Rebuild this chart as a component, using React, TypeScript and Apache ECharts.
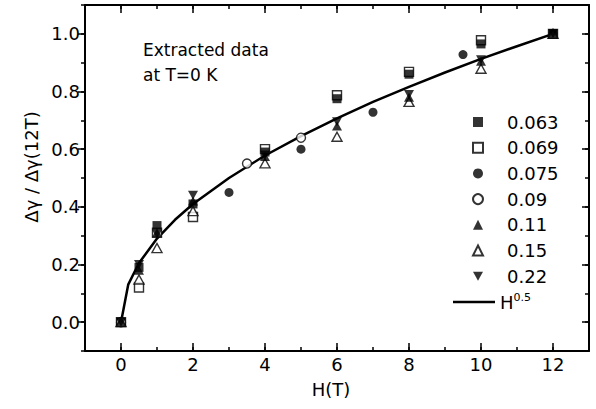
import React, { useEffect, useRef } from "react";
import * as echarts from "echarts";

const FONT = "DejaVu Sans";

// field values (T) shared by most data sets
const fieldH = [0, 0.5, 1, 2, 4, 6, 8, 10, 12];
const y063 = [0, 0.19, 0.335, 0.41, 0.59, 0.775, 0.86, 0.965, 1.0];
const y069 = [0, 0.12, 0.31, 0.365, 0.6, 0.787, 0.868, 0.978, 1.0];
const h075 = [0, 3, 5, 7, 9.5, 12];
const y075 = [0, 0.45, 0.6, 0.728, 0.928, 1.0];
const h090 = [0, 3.5, 5];
const y090 = [0, 0.55, 0.64];
const y011 = [0, 0.18, 0.31, 0.42, 0.575, 0.68, 0.78, 0.905, 1.0];
const y015 = [0, 0.148, 0.257, 0.385, 0.551, 0.643, 0.764, 0.879, 1.0];
const y022 = [0, 0.2, 0.305, 0.44, 0.58, 0.695, 0.79, 0.91, 1.0];

// H^0.5 curve
const lineH = [0, 0.2, 0.5, 1, 1.5, 2, 3, 4, 5, 6, 7, 8, 9, 10, 11, 12];
const lineY = [0, 0.13, 0.205, 0.29, 0.355, 0.41, 0.5, 0.578, 0.645, 0.707, 0.764, 0.816, 0.866, 0.913, 0.957, 1.0];

const markerNames = ["0.063", "0.069", "0.075", "0.09", "0.11", "0.15", "0.22"];
const curveName = "H^0.5";

const zip = (xs: number[], ys: number[]) => xs.map((x, i) => [x, ys[i]]);

const DOWN_TRI = "path://M0,0 L10,0 L5,9 Z";

export default function App() {
  const ref = useRef<HTMLDivElement>(null);
  useEffect(() => {
    if (!ref.current) return;
    const chart = echarts.init(ref.current, undefined, { renderer: "svg" });
    const black = "#000";
    const filled = { color: black };
    const open = { color: "#fff", borderColor: black, borderWidth: 1.4 };
    const scatter = (name: string, data: number[][], symbol: string, size: any, style: any, z: number) => ({
      name,
      type: "scatter",
      data,
      symbol,
      symbolSize: size,
      itemStyle: style,
      xAxisIndex: 0,
      yAxisIndex: 0,
      z,
    });
    // major axes: ECharts picks interval 2 / 0.2 from splitNumber, aligned on 0
    const baseX = { type: "value", min: -1, max: 13, splitLine: { show: false } } as any;
    const baseY = { type: "value", min: -0.1, max: 1.1, splitLine: { show: false } } as any;
    const majX = { ...baseX, splitNumber: 7 };
    const majY = { ...baseY, splitNumber: 6 };
    const axisLine = { show: true, onZero: false, lineStyle: { color: black, width: 2 } };
    const noLine = { show: false, onZero: false };
    const tick = (inside: boolean, length: number) => ({
      show: true,
      inside,
      length,
      lineStyle: { color: black, width: 1.5 },
    });
    chart.setOption({
      animation: false,
      grid: { left: 85, right: 7, top: 5, bottom: 58 },
      xAxis: [
        {
          ...majX,
          position: "bottom",
          axisLine,
          axisTick: tick(true, 8),
          axisLabel: {
            showMinLabel: false,
            showMaxLabel: false,
            color: black,
            fontFamily: FONT,
            fontSize: 18,
            margin: 4,
            formatter: (v: number) => (v < 0 || v > 12 ? "" : String(v)),
          },
          name: "H(T)",
          nameLocation: "middle",
          nameGap: 29,
          nameTextStyle: { color: black, fontFamily: FONT, fontSize: 18, padding: [0, 12, 0, 0] },
        },
        { ...baseX, position: "bottom", interval: 1, axisLine: noLine, axisTick: tick(true, 4), axisLabel: { show: false } },
        { ...majX, position: "top", axisLine, axisTick: tick(true, 8), axisLabel: { show: false } },
        { ...baseX, position: "top", interval: 1, axisLine: noLine, axisTick: tick(true, 4), axisLabel: { show: false } },
      ],
      yAxis: [
        {
          ...majY,
          position: "left",
          axisLine,
          axisTick: tick(false, 7),
          axisLabel: {
            showMinLabel: false,
            showMaxLabel: false,
            color: black,
            fontFamily: FONT,
            fontSize: 18,
            margin: 5,
            formatter: (v: number) => (v < -0.01 || v > 1.01 ? "" : v.toFixed(1)),
          },
          name: "Δγ / Δγ(12T)",
          nameLocation: "middle",
          nameRotate: 90,
          nameGap: 42,
          nameTextStyle: { color: black, fontFamily: FONT, fontSize: 18, padding: [0, 0, 0, 22] },
        },
        { ...baseY, position: "left", interval: 0.1, axisLine: noLine, axisTick: tick(false, 4), axisLabel: { show: false } },
        { ...majY, position: "right", axisLine, axisTick: tick(true, 7), axisLabel: { show: false } },
        { ...baseY, position: "right", interval: 0.1, axisLine: noLine, axisTick: tick(true, 4), axisLabel: { show: false } },
      ],
      legend: [
        {
          orient: "vertical",
          left: 472,
          top: 112,
          padding: 0,
          itemWidth: 10,
          itemHeight: 10,
          itemGap: 5.7,
          selectedMode: false,
          data: markerNames,
          textStyle: { color: black, fontFamily: FONT, fontSize: 18, lineHeight: 20, padding: [0, 0, 0, 19] },
        },
        {
          orient: "vertical",
          left: 453,
          top: 292,
          padding: 0,
          itemWidth: 42,
          itemHeight: 2.5,
          selectedMode: false,
          data: [{ name: curveName, icon: "rect", itemStyle: { color: black } }],
          formatter: () => "{h|H}{s|0.5}",
          textStyle: {
            color: black,
            fontFamily: FONT,
            fontSize: 18,
            lineHeight: 20,
            rich: {
              h: { fontFamily: FONT, fontSize: 18, color: black, lineHeight: 20 },
              s: { fontFamily: FONT, fontSize: 11, color: black, verticalAlign: "top", lineHeight: 12 },
            },
          },
        },
      ],
      graphic: [
        {
          type: "text",
          left: 143,
          top: 37,
          style: {
            text: "Extracted data\nat T=0 K",
            fontFamily: FONT,
            fontSize: 17,
            lineHeight: 25,
            fill: black,
          },
        },
      ],
      series: [
        scatter("0.069", zip(fieldH, y069), "rect", 9, open, 3),
        scatter("0.063", zip(fieldH, y063), "rect", 9, filled, 3),
        scatter("0.075", zip(h075, y075), "circle", 9, filled, 3),
        scatter("0.09", zip(h090, y090), "circle", 9, open, 3),
        scatter("0.15", zip(fieldH, y015), "triangle", [10, 9], open, 3),
        scatter("0.11", zip(fieldH, y011), "triangle", [10, 9], filled, 3),
        scatter("0.22", zip(fieldH, y022), DOWN_TRI, [10, 9], filled, 3),
        {
          name: curveName,
          type: "line",
          data: zip(lineH, lineY),
          symbol: "none",
          showSymbol: false,
          smooth: false,
          lineStyle: { color: black, width: 2.5 },
          itemStyle: { color: black },
          xAxisIndex: 0,
          yAxisIndex: 0,
          z: 2,
        },
      ],
    });
    return () => chart.dispose();
  }, []);
  return <div ref={ref} style={{ width: 596, height: 409, position: "absolute", left: 0, top: 0 }} />;
}
